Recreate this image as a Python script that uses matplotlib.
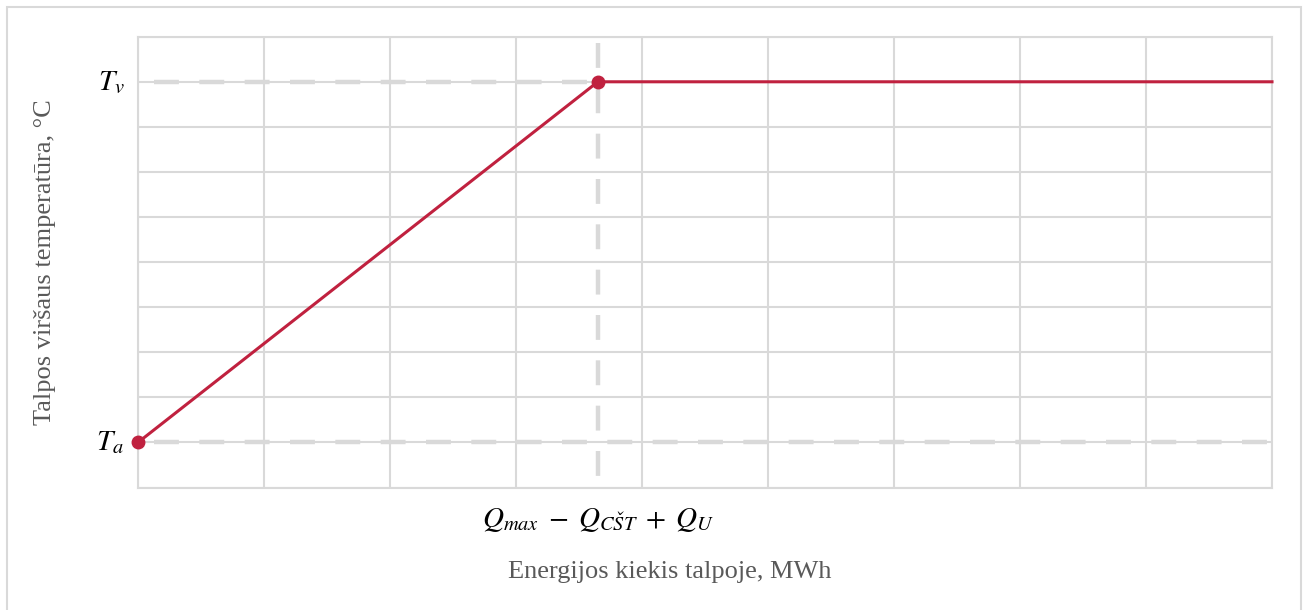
import matplotlib
matplotlib.use("Agg")
import matplotlib.pyplot as plt
from matplotlib.patches import Rectangle
from matplotlib.transforms import blended_transform_factory

# Storage top temperature vs. stored energy (schematic)
energy = [0.0, 3.65, 9.0]          # energy in storage (axis units)
temperature = [1.0, 9.0, 9.0]      # top temperature (axis units)
t_levels = [1.0, 9.0]
t_labels = [r"$T_a$", r"$T_v$"]
q_levels = [3.65]
q_labels = [r"$Q_{max}\;-\;Q_{CŠT}\;+\;Q_U$"]

x_label = "Energijos kiekis talpoje, MWh"
y_label = "Talpos viršaus temperatūra, °C"

GRID = "#d9d9d9"
RED = "#c0213f"
TXT = "#595959"

plt.rcParams["mathtext.fontset"] = "stix"

fig = plt.figure(figsize=(13.08, 6.10), dpi=100)
W, H = 1308, 610
ax = fig.add_axes([138 / W, (H - 487.5) / H, (1272 - 138) / W, (487.5 - 36.7) / H])

# outer frame
fig.patches.append(Rectangle((7 / W, -10 / H), (1301 - 7) / W, (H - 7 + 10) / H,
                             transform=fig.transFigure, fill=False,
                             edgecolor=GRID, linewidth=1.5))

ax.set_xlim(0, 9)
ax.set_ylim(0, 10)
ax.set_xticks(range(0, 10))
ax.set_yticks(range(0, 11))
ax.set_xticklabels([])
ax.set_yticklabels([])
ax.tick_params(which="both", length=0)
ax.grid(True, which="major", color=GRID, linewidth=1.5)
ax.set_axisbelow(True)
for s in ax.spines.values():
    s.set_color(GRID)
    s.set_linewidth(1.5)

# level labels beside the axes
ytrans = blended_transform_factory(ax.transAxes, ax.transData)
for lvl, lab in zip(t_levels, t_labels):
    ax.text(-0.012, lvl, lab, transform=ytrans, ha="right", va="center",
            fontsize=21, color="black")
xtrans = blended_transform_factory(ax.transData, ax.transAxes)
for lvl, lab in zip(q_levels, q_labels):
    ax.text(lvl, -0.072, lab, transform=xtrans, ha="center", va="center",
            fontsize=21, color="black")

# reference dashed lines
dash = dict(color=GRID, linewidth=3.2, dashes=(5.6, 4.6), zorder=2)
ax.plot([0.13, 9.0], [t_levels[0], t_levels[0]], **dash)
ax.plot([0.13, q_levels[0]], [t_levels[1], t_levels[1]], **dash)
ax.plot([q_levels[0], q_levels[0]], [9.87, -0.15], clip_on=False, **dash)

ax.plot(energy, temperature, color=RED, linewidth=2.2, zorder=3, clip_on=False)
ax.plot(energy[:2], temperature[:2], "o", color=RED, markersize=9, zorder=4,
        clip_on=False)

fig.text(670 / W, 1 - 572 / H, x_label, ha="center", va="center",
         fontsize=19, color=TXT, family="Liberation Serif")
fig.text(45 / W, 1 - 262 / H, y_label, ha="center", va="center", rotation=90,
         fontsize=19, color=TXT, family="Liberation Serif")

fig.savefig("out.png", dpi=100)
